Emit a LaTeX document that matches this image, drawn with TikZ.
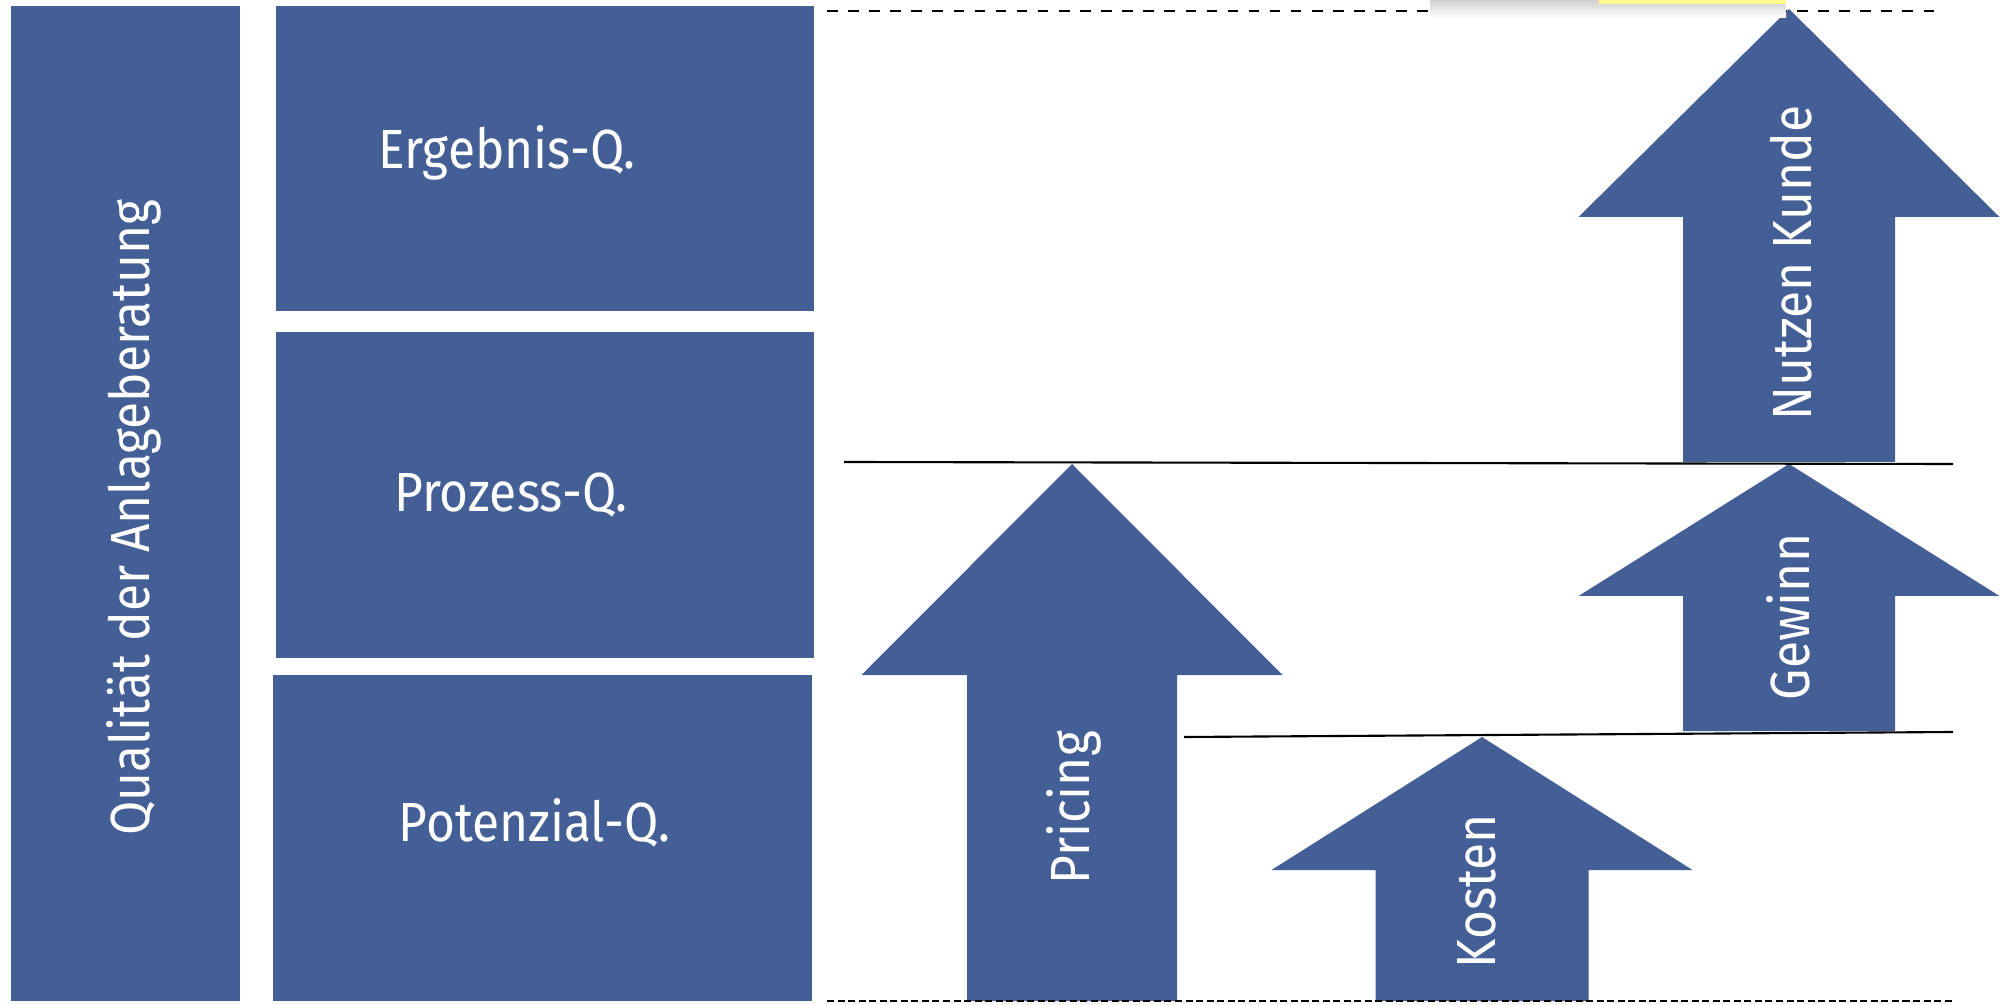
\documentclass[tikz,border=0pt]{standalone}
\usepackage{fontspec}
\setmainfont[FakeStretch=0.9]{Fira Sans}
\usepackage{tikz}
\usetikzlibrary{positioning}
\definecolor{qblue}{RGB}{68,95,150}
\tikzstyle{box} = [rectangle,fill=qblue,inner sep=0pt]
\tikzstyle{lbl} = [text=white,font=\fontsize{15.7}{19}\selectfont,inner sep=0pt]
\tikzstyle{vlbl} = [lbl,rotate=90]
\tikzstyle{rule} = [draw,line width=0.6pt]
% block arrow: name, centre x, tip y, head base y, head half width, shaft half width, bottom y
\newcommand{\blockarrow}[7]{%
  \fill[qblue] (#2-#6,#7) -- (#2+#6,#7) -- (#2+#6,#4) -- (#2+#5,#4)
     -- (#2,#3) -- (#2-#5,#4) -- (#2-#6,#4) -- cycle;
  \coordinate (#1) at (#2,#3);}

\begin{document}
\begin{tikzpicture}
    \useasboundingbox (0,0) rectangle (20,10.04);
    	% quality boxes
    	\node[box,minimum width=2.29cm,minimum height=9.95cm] (qual) at (1.255,5.005) {};
    	\node[box,minimum width=5.38cm,minimum height=3.05cm] (erg) at (5.45,8.455) {};
    	\node[box,minimum width=5.38cm,minimum height=3.26cm] (proz) at (5.45,5.09) {};
    	\node[box,minimum width=5.39cm,minimum height=3.26cm] (pot) at (5.425,1.66) {};
    	\node[vlbl] at ([xshift=0.08cm,yshift=-0.14cm]qual.center) {Qualität der Anlageberatung};
    	\node[lbl] at ([xshift=-0.38cm,yshift=0.06cm]erg.center) {Ergebnis-Q.};
    	\node[lbl] at ([xshift=-0.34cm]proz.center) {Prozess-Q.};
    	\node[lbl] at ([xshift=-0.08cm,yshift=0.15cm]pot.center) {Potenzial-Q.};
    	% arrows
    	\blockarrow{pricing}{10.72}{5.40}{3.29}{2.105}{1.05}{0.03}
    	\blockarrow{kosten}{14.82}{2.67}{1.34}{2.105}{1.065}{0.03}
    	\blockarrow{gewinn}{17.89}{5.40}{4.08}{2.105}{1.06}{2.73}
    	\blockarrow{nutzen}{17.89}{9.95}{7.87}{2.105}{1.06}{5.42}
    	\node[vlbl] at (10.74,1.96) {Pricing};
    	\node[vlbl] at (14.77,1.13) {Kosten};
    	\node[vlbl] at (17.88,3.87) {Gewinn};
    	\node[vlbl] at (17.91,7.41) {Nutzen Kunde};
    	% level lines
    	\coordinate (top l) at (8.27,9.93);
    	\coordinate (top r) at (19.36,9.93);
    	\coordinate (bot l) at (8.27,0.03);
    	\coordinate (bot r) at (19.52,0.03);
    	\coordinate (mid l) at (8.44,5.42);
    	\coordinate (mid r) at (19.53,5.40);
    	\coordinate (low l) at (11.84,2.67);
    	\coordinate (low r) at (19.53,2.72);
    	\path[rule,dashed] (top l) -- (top r);
    	\path[rule,densely dashed,dash pattern=on 2pt off 1pt] (bot l) -- (bot r);
    	\path[rule] (mid l) -- (mid r);
    	\path[rule] (low l) -- (low r);
    	% shadow of the note at the top edge
    	\shade[top color=black!18,bottom color=white] (14.3,9.86) rectangle (17.86,10.04);
    	\fill[yellow!45] (15.99,10.00) rectangle (17.86,10.04);
\end{tikzpicture}
\end{document}
